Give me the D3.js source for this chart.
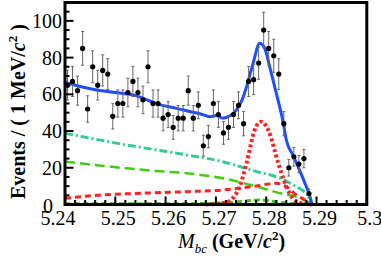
<!DOCTYPE html>
<html><head><meta charset="utf-8">
<script src="https://cdn.jsdelivr.net/npm/d3@7"></script>
<style>
html,body{margin:0;padding:0;background:#fff;}
svg{display:block;}
text{font-family:"Liberation Serif","Times New Roman",serif;}
</style></head>
<body>
<script>
// ---------- data ----------
const binLow = 5.24, binWidth = 0.001;
const counts = [65,67,62,85,52,75,65,73,71,48,55,55,61,67,61,57,75,55,55,47,49,42,47,47,62,47,54,32,37,55,49,39,42,49,54,44,67,68,77,95,85,81,71,44,20,26,22,25,6];
const errors = [8.1,8.2,7.9,9.2,7.2,8.7,8.1,8.5,8.4,6.9,7.4,7.4,7.8,8.2,7.8,7.5,8.7,7.4,7.4,6.9,7.0,6.5,6.9,6.9,7.9,6.9,7.3,5.7,6.1,7.4,7.0,6.2,6.5,7.0,7.3,6.6,8.2,8.2,8.8,9.7,9.2,9.0,8.4,6.6,4.5,5.1,4.7,5.0,2.4];

// total fit (blue)
const totalX = [5.2400,5.2430,5.2463,5.2500,5.2535,5.2588,5.2620,5.2648,5.2670,5.2688,5.2700,5.2714,5.2728,5.2741,5.2752,5.2761,5.2774,5.2787,5.2797,5.2807,5.2820,5.2834,5.2840,5.2853,5.2865,5.2877,5.2887,5.2891];
const totalY = [66.4,64.3,62.4,61.0,59.7,54.4,52.5,50.6,49.3,47.8,48.5,47.0,48.3,51.5,57.0,64.2,77.0,87.8,85.1,75.0,60.6,44.3,35.1,27.0,19.5,11.6,4.3,0];
// continuum background (teal dash-dot)
const contX = [5.2400,5.2460,5.2522,5.2580,5.2642,5.2714,5.2781,5.2828,5.2860,5.2875,5.2883,5.2887,5.2891];
const contY = [38.8,35.6,32.4,29.8,27.0,23.3,17.9,14.3,9.7,7.2,5.2,3.4,0];
// BB background (green dashed)
const bbX = [5.2400,5.2460,5.2522,5.2580,5.2642,5.2714,5.2781,5.2828,5.2868,5.2882,5.2891];
const bbY = [23.3,21.5,19.7,18.3,17.0,14.3,9.7,6.1,3.4,1.5,0];
// peaking background (red dashed)
const pkX = [5.2400,5.2474,5.2560,5.2642,5.2714,5.2781,5.2820,5.2840,5.2860,5.2877,5.2891];
const pkY = [3.4,5.2,6.2,7.0,7.9,10.1,11.6,9.7,5.2,2.5,0];
// signal (red dotted)
const sigX = [5.2680,5.2715,5.2730,5.2747,5.2761,5.2777,5.2790,5.2804,5.2824,5.2840,5.2853,5.2868,5.2891];
const sigY = [0,0.8,2.5,9.7,22.5,40.6,45.1,40.6,22.5,9.7,3.4,0.8,0];
// small component (green, near zero)
const smX = [5.2400,5.2600,5.2700,5.2750,5.2785,5.2820,5.2850,5.2891];
const smY = [0.4,0.4,0.6,1.6,2.5,1.4,0.6,0.3];

const xTicks = [5.24,5.25,5.26,5.27,5.28,5.29,5.30];
const xTickLabels = ["5.24","5.25","5.26","5.27","5.28","5.29","5.3"];
const yTicks = [0,20,40,60,80,100];
const yTickLabels = ["0","20","40","60","80","100"];

// ---------- drawing ----------
const W = 381, H = 262;
const svg = d3.select("body").append("svg").attr("width", W).attr("height", H);
const x = d3.scaleLinear().domain([5.24, 5.30]).range([65, 366.8]);
const y = d3.scaleLinear().domain([0, 110]).range([204.5, 2.5]);

const g = svg.append("g");

function curve(xs, ys, color, width, dash) {
  const pts = xs.map((d, i) => [d, ys[i]]);
  const line = d3.line().x(d => x(d[0])).y(d => y(d[1])).curve(d3.curveMonotoneX);
  const p = g.append("path").attr("d", line(pts)).attr("fill", "none")
    .attr("stroke", color).attr("stroke-width", width);
  if (dash) p.attr("stroke-dasharray", dash);
  return p;
}

curve(smX, smY, "#3fc41a", 3, "6,3");
curve(contX, contY, "#33cc99", 3, "8,3,2,3");
curve(bbX, bbY, "#44cc11", 2.5, "10,5");
curve(pkX, pkY, "#ff2222", 3, "6,4");
curve(sigX, sigY, "#ff2222", 4, "3,2.5");
curve(totalX, totalY, "#1f4eff", 3, null);

// data points
const data = counts.map((c, i) => ({xv: binLow + (i + 0.5) * binWidth, v: c, e: errors[i]}));
const pts = g.append("g");
data.forEach(d => {
  const cx = x(d.xv);
  pts.append("line").attr("x1", cx).attr("x2", cx).attr("y1", y(d.v - d.e)).attr("y2", y(d.v + d.e))
    .attr("stroke", "#666").attr("stroke-width", 1);
  [d.v - d.e, d.v + d.e].forEach(t => {
    pts.append("line").attr("x1", cx - 1.5).attr("x2", cx + 1.5).attr("y1", y(t)).attr("y2", y(t))
      .attr("stroke", "#666").attr("stroke-width", 1);
  });
  pts.append("circle").attr("cx", cx).attr("cy", y(d.v)).attr("r", 2.6).attr("fill", "#000");
});

// axes ticks
const ax = svg.append("g");
const xMinor = d3.range(0, 31).map(k => 5.24 + k * 0.002);
xMinor.forEach(t => {
  const isMajor = Math.abs((t - 5.24) / 0.01 - Math.round((t - 5.24) / 0.01)) < 1e-6;
  ax.append("line").attr("x1", x(t)).attr("x2", x(t)).attr("y1", y(0)).attr("y2", y(0) - (isMajor ? 8 : 4.5))
    .attr("stroke", "#000").attr("stroke-width", 2);
});
const yMinor = d3.range(0, 23).map(k => k * 5);
yMinor.forEach(t => {
  const isMajor = t % 20 === 0;
  ax.append("line").attr("y1", y(t)).attr("y2", y(t)).attr("x1", x(5.24)).attr("x2", x(5.24) + (isMajor ? 8.5 : 4.5))
    .attr("stroke", "#000").attr("stroke-width", 2);
});

// frame
svg.append("rect").attr("x", 65).attr("y", 2.5).attr("width", 366.8 - 65).attr("height", 204.5 - 2.5)
  .attr("fill", "none").attr("stroke", "#000").attr("stroke-width", 3);

// tick labels
xTicks.forEach((t, i) => {
  svg.append("text").attr("x", x(t) + (i === 0 ? -7 : 3)).attr("y", 225)
    .attr("text-anchor", "middle").attr("font-size", 20).text(xTickLabels[i]);
});
yTicks.forEach((t, i) => {
  svg.append("text").attr("x", i === 0 ? 53 : 62).attr("y", y(t) + 7 + (i === 0 ? 1 : 0))
    .attr("text-anchor", "end").attr("font-size", 20).text(yTickLabels[i]);
});

// x axis title
const xt = svg.append("text").attr("x", 178).attr("y", 248).attr("font-size", 20);
xt.append("tspan").attr("font-style", "italic").text("M");
xt.append("tspan").attr("font-style", "italic").attr("font-size", 13).attr("dy", 5).text("bc");
xt.append("tspan").attr("font-weight", "bold").attr("dy", -5).text(" (GeV/");
xt.append("tspan").attr("font-weight", "bold").attr("font-style", "italic").text("c");
xt.append("tspan").attr("font-weight", "bold").attr("font-size", 13).attr("dy", -8).text("2");
xt.append("tspan").attr("font-weight", "bold").attr("dy", 8).text(")");

// y axis title
const yt = svg.append("text").attr("transform", "translate(25,199) rotate(-90)")
  .attr("font-size", 20).attr("font-weight", "bold");
yt.append("tspan").text("Events / ( 1 MeV/");
yt.append("tspan").attr("font-style", "italic").text("c");
yt.append("tspan").attr("font-size", 13).attr("dy", -8).text("2");
yt.append("tspan").attr("dy", 8).text(" )");
</script>
</body></html>
